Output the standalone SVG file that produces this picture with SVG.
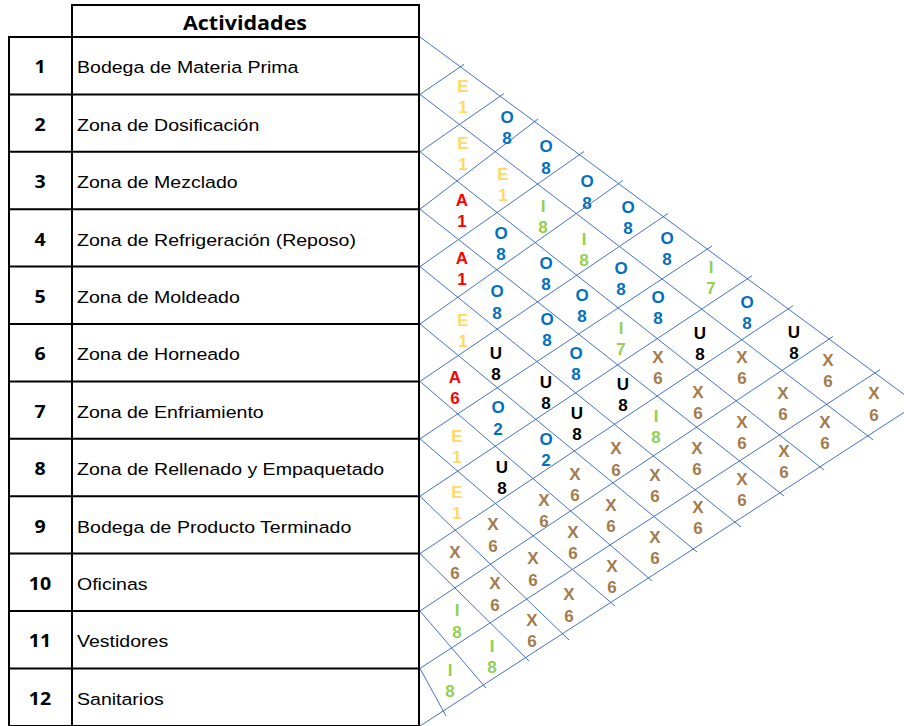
<svg xmlns="http://www.w3.org/2000/svg" width="904" height="726" viewBox="0 0 904 726">
<style>
.tb{stroke:#000;stroke-width:2;fill:none}
.gl{stroke:#4472C4;stroke-width:1;fill:none}
.hd{font-family:"Open Sans","Liberation Sans",sans-serif;font-weight:700;font-size:19px;text-anchor:middle;fill:#000}
.num{font-family:"Open Sans","Liberation Sans",sans-serif;font-weight:700;font-size:17px;text-anchor:middle;fill:#000}
.nm{font-family:"Liberation Sans",Arial,sans-serif;font-size:17px;fill:#000}
.c text{font-family:"Liberation Sans",Arial,sans-serif;font-weight:700;font-size:17px;text-anchor:middle}
.E{fill:#FFD966}.O{fill:#0070C0}.A{fill:#FF0000}.I{fill:#92D050}.U{fill:#000000}.X{fill:#A57A4C}
</style>
<rect width="904" height="726" fill="#fff"/>
<g id="table">
<rect class="tb" x="72" y="5" width="347" height="32"/>
<rect class="tb" x="9" y="37" width="410" height="689"/>
<path class="tb" d="M72 37V726M9 94.4H419M9 151.8H419M9 209.2H419M9 266.6H419M9 324H419M9 381.4H419M9 438.8H419M9 496.2H419M9 553.6H419M9 611H419M9 668.4H419"/>
</g>
<g id="header"><text class="hd" x="245" y="30" textLength="124" lengthAdjust="spacingAndGlyphs">Actividades</text></g>
<g id="row1"><text class="num" transform="translate(40 73) scale(1.15 1)">1</text><text class="nm" transform="translate(77 73) scale(1.15 1)">Bodega de Materia Prima</text></g>
<g id="row2"><text class="num" transform="translate(40 131) scale(1.15 1)">2</text><text class="nm" transform="translate(77 131) scale(1.15 1)">Zona de Dosificación</text></g>
<g id="row3"><text class="num" transform="translate(40 188) scale(1.15 1)">3</text><text class="nm" transform="translate(77 188) scale(1.15 1)">Zona de Mezclado</text></g>
<g id="row4"><text class="num" transform="translate(40 246) scale(1.15 1)">4</text><text class="nm" transform="translate(77 246) scale(1.15 1)">Zona de Refrigeración (Reposo)</text></g>
<g id="row5"><text class="num" transform="translate(40 303) scale(1.15 1)">5</text><text class="nm" transform="translate(77 303) scale(1.15 1)">Zona de Moldeado</text></g>
<g id="row6"><text class="num" transform="translate(40 360) scale(1.15 1)">6</text><text class="nm" transform="translate(77 360) scale(1.15 1)">Zona de Horneado</text></g>
<g id="row7"><text class="num" transform="translate(40 418) scale(1.15 1)">7</text><text class="nm" transform="translate(77 418) scale(1.15 1)">Zona de Enfriamiento</text></g>
<g id="row8"><text class="num" transform="translate(40 475) scale(1.15 1)">8</text><text class="nm" transform="translate(77 475) scale(1.15 1)">Zona de Rellenado y Empaquetado</text></g>
<g id="row9"><text class="num" transform="translate(40 533) scale(1.15 1)">9</text><text class="nm" transform="translate(77 533) scale(1.15 1)">Bodega de Producto Terminado</text></g>
<g id="row10"><text class="num" transform="translate(40 590) scale(1.15 1)">10</text><text class="nm" transform="translate(77 590) scale(1.15 1)">Oficinas</text></g>
<g id="row11"><text class="num" transform="translate(40 647) scale(1.15 1)">11</text><text class="nm" transform="translate(77 647) scale(1.15 1)">Vestidores</text></g>
<g id="row12"><text class="num" transform="translate(40 705) scale(1.15 1)">12</text><text class="nm" transform="translate(77 705) scale(1.15 1)">Sanitarios</text></g>
<g id="connectors">
<path class="gl" d="M420 37L917 404M420 94.4L873 439.8M420 151.8L824 470M420 209.2L784 496M420 266.6L741 527M420 324L697 552M420 381.4L652 581M420 438.8L615 606M420 496.2L569 640M420 553.6L529 661M420 611L486 688M420 668.4L446 716"/>
<path class="gl" d="M420 94.4L464 64.3M420 151.8L504 93.6M420 209.2L538 119M420 266.6L584 151.5M420 324L623 180.5M420 381.4L668 213.5M420 438.8L712 246M420 496.2L752 275.7M420 553.6L793 305.7M420 611L833 336.5M420 668.4L880 369.7M420 726L917 404"/>
</g>
<g class="c">
<g id="r1-2" class="E"><text x="463" y="92">E</text><text x="463" y="113">1</text></g>
<g id="r1-3" class="O"><text x="507" y="123">O</text><text x="507" y="144">8</text></g>
<g id="r1-4" class="O"><text x="546" y="152">O</text><text x="546" y="174">8</text></g>
<g id="r1-5" class="O"><text x="587" y="187">O</text><text x="587" y="209">8</text></g>
<g id="r1-6" class="O"><text x="628" y="213">O</text><text x="628" y="234">8</text></g>
<g id="r1-7" class="O"><text x="667" y="244">O</text><text x="667" y="265">8</text></g>
<g id="r1-8" class="I"><text x="711" y="273">I</text><text x="711" y="294">7</text></g>
<g id="r1-9" class="O"><text x="747" y="308">O</text><text x="747" y="329">8</text></g>
<g id="r1-10" class="U"><text x="794" y="338">U</text><text x="794" y="359">8</text></g>
<g id="r1-11" class="X"><text x="828" y="366">X</text><text x="828" y="387">6</text></g>
<g id="r1-12" class="X"><text x="874" y="399">X</text><text x="874" y="421">6</text></g>
<g id="r2-3" class="E"><text x="463" y="149">E</text><text x="463" y="170">1</text></g>
<g id="r2-4" class="E"><text x="503" y="180">E</text><text x="503" y="201">1</text></g>
<g id="r2-5" class="I"><text x="543" y="212">I</text><text x="543" y="233">8</text></g>
<g id="r2-6" class="I"><text x="584" y="245">I</text><text x="584" y="266">8</text></g>
<g id="r2-7" class="O"><text x="621" y="274">O</text><text x="621" y="295">8</text></g>
<g id="r2-8" class="O"><text x="658" y="303">O</text><text x="658" y="324">8</text></g>
<g id="r2-9" class="U"><text x="700" y="339">U</text><text x="700" y="360">8</text></g>
<g id="r2-10" class="X"><text x="742" y="363">X</text><text x="742" y="384">6</text></g>
<g id="r2-11" class="X"><text x="783" y="399">X</text><text x="783" y="420">6</text></g>
<g id="r2-12" class="X"><text x="825" y="428">X</text><text x="825" y="449">6</text></g>
<g id="r3-4" class="A"><text x="462" y="206">A</text><text x="462" y="227">1</text></g>
<g id="r3-5" class="O"><text x="501" y="239">O</text><text x="501" y="260">8</text></g>
<g id="r3-6" class="O"><text x="546" y="269">O</text><text x="546" y="290">8</text></g>
<g id="r3-7" class="O"><text x="582" y="301">O</text><text x="582" y="322">8</text></g>
<g id="r3-8" class="I"><text x="621" y="334">I</text><text x="621" y="355">7</text></g>
<g id="r3-9" class="X"><text x="658" y="363">X</text><text x="658" y="384">6</text></g>
<g id="r3-10" class="X"><text x="698" y="398">X</text><text x="698" y="419">6</text></g>
<g id="r3-11" class="X"><text x="742" y="428">X</text><text x="742" y="449">6</text></g>
<g id="r3-12" class="X"><text x="784" y="457">X</text><text x="784" y="478">6</text></g>
<g id="r4-5" class="A"><text x="462" y="264">A</text><text x="462" y="285">1</text></g>
<g id="r4-6" class="O"><text x="497" y="297">O</text><text x="497" y="319">8</text></g>
<g id="r4-7" class="O"><text x="547" y="325">O</text><text x="547" y="346">8</text></g>
<g id="r4-8" class="O"><text x="576" y="359">O</text><text x="576" y="380">8</text></g>
<g id="r4-9" class="U"><text x="623" y="390">U</text><text x="623" y="411">8</text></g>
<g id="r4-10" class="I"><text x="656" y="422">I</text><text x="656" y="443">8</text></g>
<g id="r4-11" class="X"><text x="697" y="454">X</text><text x="697" y="475">6</text></g>
<g id="r4-12" class="X"><text x="742" y="485">X</text><text x="742" y="506">6</text></g>
<g id="r5-6" class="E"><text x="463" y="326">E</text><text x="463" y="347">1</text></g>
<g id="r5-7" class="U"><text x="496" y="359">U</text><text x="496" y="380">8</text></g>
<g id="r5-8" class="U"><text x="546" y="388">U</text><text x="546" y="409">8</text></g>
<g id="r5-9" class="U"><text x="577" y="419">U</text><text x="577" y="440">8</text></g>
<g id="r5-10" class="X"><text x="616" y="454">X</text><text x="616" y="476">6</text></g>
<g id="r5-11" class="X"><text x="655" y="481">X</text><text x="655" y="502">6</text></g>
<g id="r5-12" class="X"><text x="698" y="513">X</text><text x="698" y="534">6</text></g>
<g id="r6-7" class="A"><text x="455" y="383">A</text><text x="455" y="404">6</text></g>
<g id="r6-8" class="O"><text x="498" y="413">O</text><text x="498" y="435">2</text></g>
<g id="r6-9" class="O"><text x="546" y="445">O</text><text x="546" y="466">2</text></g>
<g id="r6-10" class="X"><text x="575" y="480">X</text><text x="575" y="501">6</text></g>
<g id="r6-11" class="X"><text x="611" y="511">X</text><text x="611" y="532">6</text></g>
<g id="r6-12" class="X"><text x="655" y="543">X</text><text x="655" y="564">6</text></g>
<g id="r7-8" class="E"><text x="457" y="442">E</text><text x="457" y="463">1</text></g>
<g id="r7-9" class="U"><text x="502" y="473">U</text><text x="502" y="494">8</text></g>
<g id="r7-10" class="X"><text x="544" y="506">X</text><text x="544" y="527">6</text></g>
<g id="r7-11" class="X"><text x="573" y="538">X</text><text x="573" y="559">6</text></g>
<g id="r7-12" class="X"><text x="612" y="572">X</text><text x="612" y="593">6</text></g>
<g id="r8-9" class="E"><text x="457" y="498">E</text><text x="457" y="519">1</text></g>
<g id="r8-10" class="X"><text x="493" y="530">X</text><text x="493" y="552">6</text></g>
<g id="r8-11" class="X"><text x="533" y="564">X</text><text x="533" y="586">6</text></g>
<g id="r8-12" class="X"><text x="569" y="600">X</text><text x="569" y="622">6</text></g>
<g id="r9-10" class="X"><text x="455" y="558">X</text><text x="455" y="579">6</text></g>
<g id="r9-11" class="X"><text x="495" y="589">X</text><text x="495" y="611">6</text></g>
<g id="r9-12" class="X"><text x="532" y="626">X</text><text x="532" y="647">6</text></g>
<g id="r10-11" class="I"><text x="457" y="616">I</text><text x="457" y="638">8</text></g>
<g id="r10-12" class="I"><text x="492" y="652">I</text><text x="492" y="673">8</text></g>
<g id="r11-12" class="I"><text x="450" y="676">I</text><text x="450" y="697">8</text></g>
</g>
</svg>
